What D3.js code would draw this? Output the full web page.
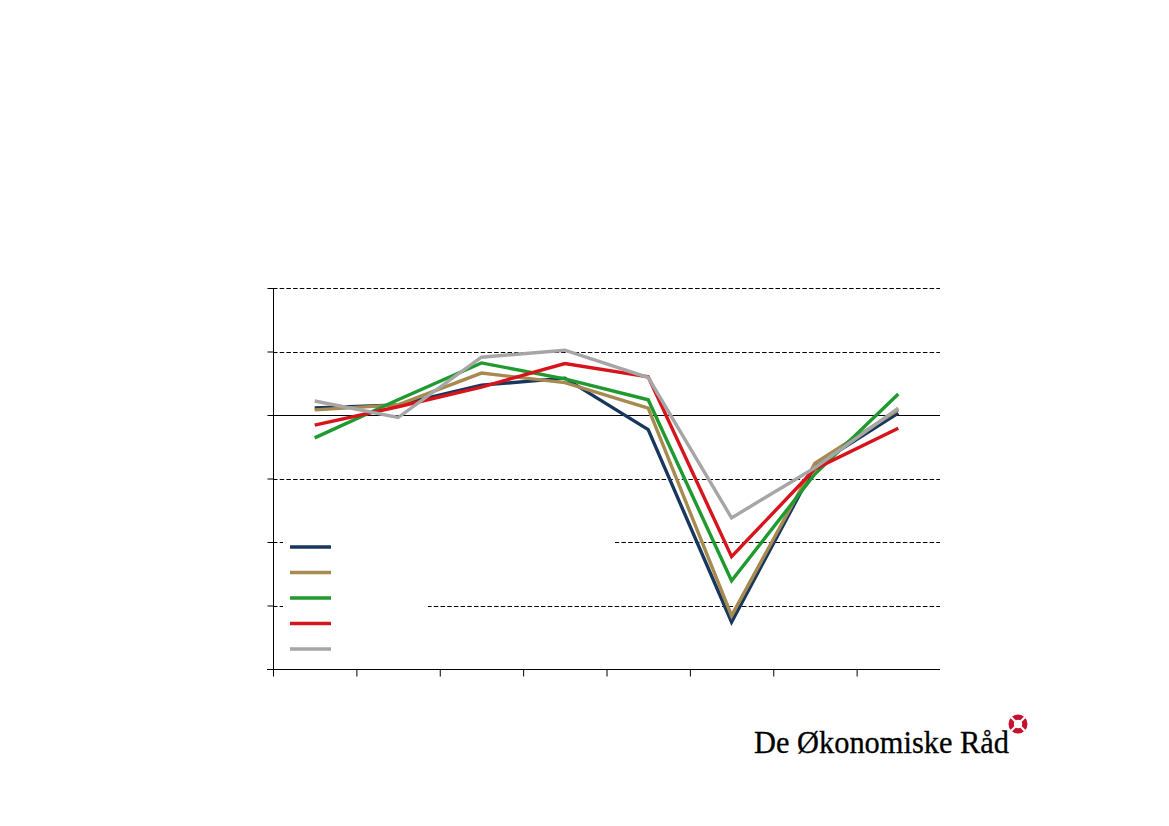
<!DOCTYPE html>
<html>
<head>
<meta charset="utf-8">
<script src="https://d3js.org/d3.v7.min.js"></script>
<style>
  html, body { margin: 0; padding: 0; background: #ffffff; }
  svg { display: block; }
</style>
</head>
<body>
<svg id="chart" width="1169" height="826"></svg>
<script>
// ---- data (category and series labels are not legible in the reference) ----
const categoryIndex = [0, 1, 2, 3, 4, 5, 6, 7];
const yTicks = [-4, -3, -2, -1, 0, 1, 2];

const seriesNavy  = [0.11, 0.16, 0.47, 0.58, -0.23, -3.26, -0.80, 0.03];
const seriesTan   = [0.08, 0.16, 0.66, 0.51, 0.11, -3.16, -0.76, 0.08];
const seriesGreen = [-0.36, 0.24, 0.82, 0.57, 0.24, -2.61, -0.93, 0.33];
const seriesRed   = [-0.16, 0.13, 0.44, 0.81, 0.60, -2.23, -0.85, -0.21];
const seriesGray  = [0.22, -0.04, 0.91, 1.02, 0.59, -1.62, -0.83, 0.11];

const seriesColors = ["#17375E", "#A68A50", "#1E9A2F", "#D7141C", "#A6A6A6"];
const legendBoxEnds = [615, 420, 428, 420, 420];

const seriesList = [seriesNavy, seriesTan, seriesGreen, seriesRed, seriesGray];

(function () {
// ---- layout ----
const svg = d3.select("#chart");
const pLeft = 273, pRight = 940, pTop = 288, pBottom = 669;

const x = d3.scaleLinear().domain([0, categoryIndex.length]).range([pLeft, pRight]);
const y = d3.scaleLinear().domain([-4, 2]).range([pBottom, pTop]);

// gridlines
svg.append("g").selectAll("line")
  .data(yTicks.filter(v => v !== -4))
  .join("line")
  .attr("x1", pLeft).attr("x2", pRight)
  .attr("y1", d => Math.round(y(d)) + 0.5).attr("y2", d => Math.round(y(d)) + 0.5)
  .attr("stroke", "#000")
  .attr("stroke-width", 1)
  .attr("stroke-dasharray", d => d === 0 ? null : "4.5,2.2");

// legend background boxes (cover gridlines)
const legendY = d3.scaleLinear().domain([0, 4]).range([547, 649]);
svg.append("g").selectAll("rect")
  .data(seriesColors)
  .join("rect")
  .attr("x", 283)
  .attr("y", (d, i) => legendY(i) - 12)
  .attr("width", (d, i) => legendBoxEnds[i] - 283)
  .attr("height", 22)
  .attr("fill", "#fff");

// y axis
const yAxis = svg.append("g")
  .attr("transform", `translate(${pLeft + 0.5},0)`)
  .call(d3.axisLeft(y).tickValues(yTicks).tickSize(6).tickFormat(""));
yAxis.select(".domain").attr("d", `M0,${pTop}V${pBottom + 4}`).attr("stroke", "#000");
yAxis.selectAll(".tick line").attr("stroke", "#000");

// x axis
const xAxis = svg.append("g")
  .attr("transform", `translate(0,${pBottom + 0.5})`)
  .call(d3.axisBottom(x).tickValues(categoryIndex).tickSize(7).tickFormat(""));
xAxis.select(".domain").attr("d", `M${pLeft - 6},0H${pRight}`).attr("stroke", "#000");
xAxis.selectAll(".tick line").attr("stroke", "#000");

// series lines
const line = d3.line()
  .x((d, i) => x(categoryIndex[i] + 0.5))
  .y(d => y(d));

svg.append("g").selectAll("path")
  .data(seriesList)
  .join("path")
  .attr("d", d => line(d))
  .attr("fill", "none")
  .attr("stroke", (d, i) => seriesColors[i])
  .attr("stroke-width", 3.4)
  .attr("stroke-linejoin", "miter");

// legend swatches
svg.append("g").selectAll("line")
  .data(seriesColors)
  .join("line")
  .attr("x1", 290).attr("x2", 331)
  .attr("y1", (d, i) => legendY(i)).attr("y2", (d, i) => legendY(i))
  .attr("stroke", d => d)
  .attr("stroke-width", 3.5);

// logo
svg.append("text")
  .attr("x", 754).attr("y", 753)
  .attr("font-family", "'Liberation Serif', 'DejaVu Serif', serif")
  .attr("font-size", 31)
  .attr("textLength", 255)
  .attr("lengthAdjust", "spacingAndGlyphs")
  .attr("fill", "#000")
  .attr("stroke", "#000")
  .attr("stroke-width", 0.3)
  .text("De Økonomiske Råd");

const logo = svg.append("g").attr("transform", "translate(1018,724)");
logo.append("circle").attr("r", 9.5).attr("fill", "#C8102E");
logo.append("circle").attr("r", 4.2).attr("fill", "#fff");
[45, 135].forEach(a => {
  logo.append("line")
    .attr("x1", -10).attr("x2", 10).attr("y1", 0).attr("y2", 0)
    .attr("transform", `rotate(${a})`)
    .attr("stroke", "#fff").attr("stroke-width", 2.2);
});
})();
</script>
</body>
</html>
